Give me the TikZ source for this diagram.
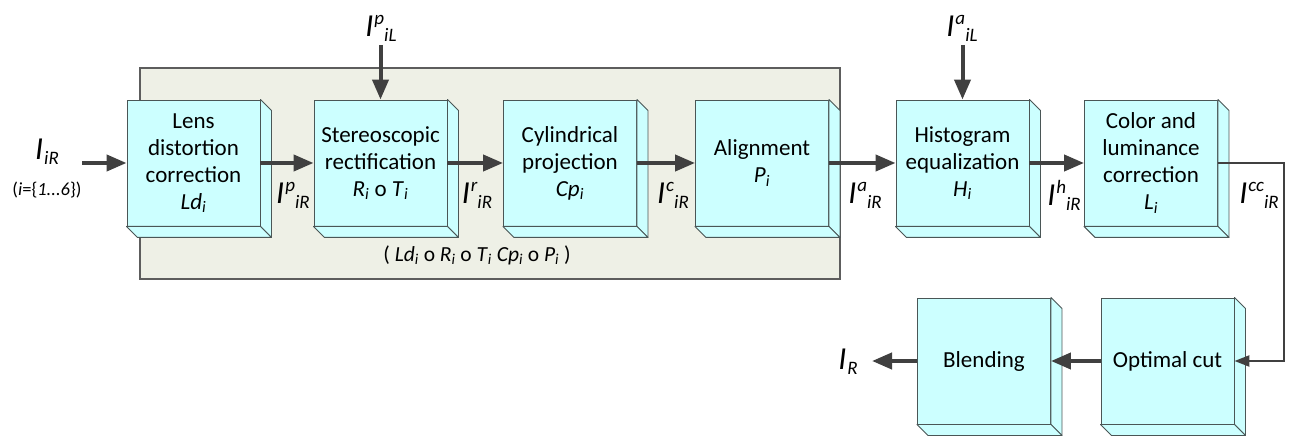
\documentclass[tikz,border=0pt]{standalone}
\usepackage{fontspec}
\setmainfont{Carlito}
\usetikzlibrary{arrows.meta,calc}
\definecolor{cyanf}{HTML}{CCFFFF}
\definecolor{edgec}{HTML}{4A5656}
\definecolor{bgf}{HTML}{EEF0E6}
\definecolor{arrc}{HTML}{404040}
\newcommand{\var}[2]{\textit{#1}\textsubscript{\textit{#2}}}
\newcommand{\Isym}[2]{{\fontsize{32}{32}\selectfont\itshape I}\kern1pt\raisebox{12pt}{\fontsize{19}{19}\selectfont\itshape #1}\raisebox{-5pt}{\fontsize{19}{19}\selectfont\itshape #2}}
\newcommand{\cubebox}[4]{%
  \node[cubenode] (#1) at (#2,#3) {#4};
  \path[cubeside] (#1.north east) -- ++(11,11) -- ([shift={(11,11)}]#1.south east) -- (#1.south east) -- cycle;
  \path[cubeside] (#1.south west) -- ++(11,11) -- ([shift={(11,11)}]#1.south east) -- (#1.south east) -- cycle;
}
\begin{document}
\begin{tikzpicture}[x=1pt,y=-1pt,
  cubenode/.style={draw=edgec, fill=cyanf, line width=0.9pt, minimum width=133pt, minimum height=126pt, inner sep=0pt, align=center, font=\fontsize{23}{27}\selectfont},
  cubeside/.style={draw=edgec, fill=cyanf, line width=0.9pt, line join=round},
  flowarr/.style={draw=arrc, line width=4pt, -{Triangle[length=20pt,width=16pt]}},
  thinarr/.style={draw=arrc, line width=2.5pt, -{Triangle[length=15pt,width=11pt]}},
  lbl/.style={inner sep=0pt, text=black}]
\useasboundingbox (0,0) rectangle (1293,438);
% group background
\node[draw=arrc!85, fill=bgf, line width=1.5pt, minimum width=700pt, minimum height=211pt, inner sep=0pt] (grp) at (490,173.5) {};
\node[lbl, font=\fontsize{21.5}{24}\selectfont] (cap) at (477,255) {( \var{Ld}{i} o \var{R}{i} o \var{T}{i} \var{Cp}{i} o \var{P}{i} )};
% boxes
\cubebox{b1}{193.5}{163}{Lens\\distortion\\correction\\\var{Ld}{i}}
\cubebox{b2}{380.5}{163}{Stereoscopic\\rectification\\\var{R}{i} o \var{T}{i}}
\cubebox{b3}{570}{163}{Cylindrical\\projection\\\var{Cp}{i}}
\cubebox{b4}{762}{163}{Alignment\\\var{P}{i}}
\cubebox{b5}{962.5}{163}{Histogram\\equalization\\\var{H}{i}}
\cubebox{b6}{1151}{163}{Color and\\luminance\\correction\\\var{L}{i}}
\cubebox{b7}{1167.5}{361}{Optimal cut}
\cubebox{b8}{984}{361}{Blending}
% labels
\node[lbl] (lin) at (47,152) {\Isym{}{iR}};
\node[lbl, font=\fontsize{18.5}{20}\selectfont] (lrange) at (47,190) {(\textit{i}=\{\textit{1...6}\})};
\coordinate (cin) at (82,163);
\node[lbl] (l1) at (293,195) {\Isym{p}{iR}};
\node[lbl] (l2) at (477,195) {\Isym{r}{iR}};
\node[lbl] (l3) at (673,195) {\Isym{c}{iR}};
\node[lbl] (l4) at (865,195) {\Isym{a}{iR}};
\node[lbl] (l5) at (1064,195) {\Isym{h}{iR}};
\node[lbl] (l6) at (1259,195) {\Isym{cc}{iR}};
\node[lbl] (ltop1) at (381,28) {\Isym{p}{iL}};
\node[lbl] (ltop2) at (962,28) {\Isym{a}{iL}};
\coordinate (ct1) at (380.5,45);
\coordinate (ct2) at (962.5,45);
\node[lbl] (lout) at (848,362) {\Isym{}{R}};
\coordinate (cout) at (872,361);
\coordinate (cr1) at (1284,163);
\coordinate (cr2) at (1284,361);
% connectors
\draw[flowarr] (cin) -- (b1.west);
\draw[flowarr] (b1.east) -- (b2.west);
\draw[flowarr] (b2.east) -- (b3.west);
\draw[flowarr] (b3.east) -- (b4.west);
\draw[flowarr] (b4.east) -- (b5.west);
\draw[flowarr] (b5.east) -- (b6.west);
\draw[flowarr] (ct1) -- (b2.north);
\draw[flowarr] (ct2) -- (b5.north);
\draw[thinarr] (b6.east) -- (cr1) -- (cr2) -- (b7.east);
\draw[flowarr] (b7.west) -- (b8.east);
\draw[flowarr] (b8.west) -- (cout);
\end{tikzpicture}
\end{document}
